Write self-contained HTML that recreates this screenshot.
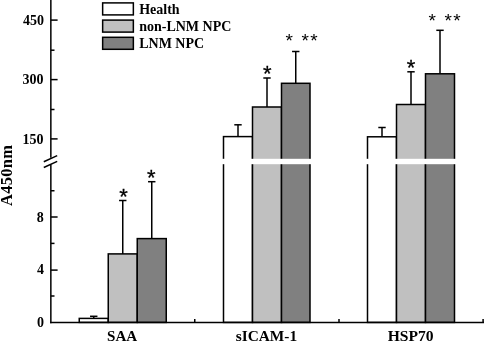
<!DOCTYPE html>
<html><head><meta charset="utf-8"><title>Chart</title>
<style>html,body{margin:0;padding:0;background:#fff}</style></head>
<body>
<svg width="484" height="341" viewBox="0 0 484 341" style="display:block">
<rect width="484" height="341" fill="#fff"/>
<g stroke="#000" stroke-width="1.5" fill="none" stroke-linecap="butt">
<line x1="93.75" y1="318.4" x2="93.75" y2="316.3"/>
<line x1="90.05" y1="316.3" x2="97.45" y2="316.3"/>
<rect x="79.25" y="318.4" width="29" height="4.00" fill="#ffffff"/>
<line x1="122.75" y1="253.9" x2="122.75" y2="200.5"/>
<line x1="119.05" y1="200.5" x2="126.45" y2="200.5"/>
<rect x="108.25" y="253.9" width="29" height="68.50" fill="#c0c0c0"/>
<line x1="151.75" y1="238.6" x2="151.75" y2="181.7"/>
<line x1="148.05" y1="181.7" x2="155.45" y2="181.7"/>
<rect x="137.25" y="238.6" width="29" height="83.80" fill="#808080"/>
<line x1="238.0" y1="136.6" x2="238.0" y2="124.8"/>
<line x1="234.3" y1="124.8" x2="241.7" y2="124.8"/>
<rect x="223.5" y="136.6" width="29" height="185.80" fill="#ffffff"/>
<line x1="267.0" y1="107" x2="267.0" y2="78"/>
<line x1="263.3" y1="78" x2="270.7" y2="78"/>
<rect x="252.5" y="107" width="29" height="215.40" fill="#c0c0c0"/>
<line x1="295.75" y1="83.3" x2="295.75" y2="51.5"/>
<line x1="292.05" y1="51.5" x2="299.45" y2="51.5"/>
<rect x="281.5" y="83.3" width="28.5" height="239.10" fill="#808080"/>
<line x1="382.0" y1="136.8" x2="382.0" y2="127.5"/>
<line x1="378.3" y1="127.5" x2="385.7" y2="127.5"/>
<rect x="367.5" y="136.8" width="29" height="185.60" fill="#ffffff"/>
<line x1="411.0" y1="104.5" x2="411.0" y2="71.8"/>
<line x1="407.3" y1="71.8" x2="414.7" y2="71.8"/>
<rect x="396.5" y="104.5" width="29" height="217.90" fill="#c0c0c0"/>
<line x1="440.0" y1="73.8" x2="440.0" y2="30.3"/>
<line x1="436.3" y1="30.3" x2="443.7" y2="30.3"/>
<rect x="425.5" y="73.8" width="29" height="248.60" fill="#808080"/>
</g>
<rect x="222.0" y="158.8" width="90" height="5.4" fill="#fff"/>
<rect x="366.0" y="158.8" width="90" height="5.4" fill="#fff"/>
<g stroke="#000" stroke-width="1.5" fill="none">
<line x1="50.85" y1="0" x2="50.85" y2="157.8"/>
<line x1="50.85" y1="164.5" x2="50.85" y2="323.15"/>
<line x1="50.1" y1="322.4" x2="484" y2="322.4"/>
<line x1="43.8" y1="161.7" x2="57.2" y2="155.6"/>
<line x1="43.8" y1="167.5" x2="57.2" y2="161.4"/>
<line x1="50.85" y1="20.1" x2="57.6" y2="20.1"/>
<line x1="50.85" y1="79.6" x2="57.6" y2="79.6"/>
<line x1="50.85" y1="138.9" x2="57.6" y2="138.9"/>
<line x1="50.85" y1="217" x2="57.6" y2="217"/>
<line x1="50.85" y1="270.1" x2="57.6" y2="270.1"/>
<line x1="50.85" y1="50.2" x2="54.5" y2="50.2"/>
<line x1="50.85" y1="109.5" x2="54.5" y2="109.5"/>
<line x1="50.85" y1="190.75" x2="54.5" y2="190.75"/>
<line x1="50.85" y1="243.4" x2="54.5" y2="243.4"/>
<line x1="50.85" y1="296" x2="54.5" y2="296"/>
<line x1="194.75" y1="322.4" x2="194.75" y2="319.1"/>
<line x1="339" y1="322.4" x2="339" y2="319.1"/>
<line x1="483.1" y1="322.4" x2="483.1" y2="319.1"/>
</g>
<rect x="102.65" y="2.9" width="30.7" height="12" fill="#ffffff" stroke="#000" stroke-width="1.5"/>
<rect x="102.65" y="20.1" width="30.7" height="12" fill="#c0c0c0" stroke="#000" stroke-width="1.5"/>
<rect x="102.65" y="37.3" width="30.7" height="12" fill="#808080" stroke="#000" stroke-width="1.5"/>
<g font-family="'Liberation Serif','Times New Roman',serif" font-weight="bold" fill="#000">
<text x="139.2" y="13.5" font-size="14">Health</text>
<text x="139.2" y="31.3" font-size="14">non-LNM NPC</text>
<text x="139.2" y="48.3" font-size="14">LNM NPC</text>
<text x="44" y="24.8" font-size="14" text-anchor="end">450</text>
<text x="43.6" y="84.3" font-size="14" text-anchor="end">300</text>
<text x="43.4" y="143.5" font-size="14" text-anchor="end">150</text>
<text x="43.8" y="221.6" font-size="14" text-anchor="end">8</text>
<text x="44" y="274.1" font-size="14" text-anchor="end">4</text>
<text x="44" y="326.6" font-size="14" text-anchor="end">0</text>
<text x="122.1" y="340.9" font-size="15.1" text-anchor="middle">SAA</text>
<text x="266.4" y="340.9" font-size="15.35" text-anchor="middle">sICAM-1</text>
<text x="410.7" y="340.9" font-size="15.6" text-anchor="middle">HSP70</text>
<text transform="translate(12,205.9) rotate(-90)" font-size="16.5" letter-spacing="0.24">A450nm</text>
</g>
<g font-family="'Liberation Sans',Arial,sans-serif" fill="#000" text-anchor="middle">
<text x="123.6" y="204.27" font-size="22" stroke="#000" stroke-width="0.3">*</text>
<text x="151.3" y="184.87" font-size="22" stroke="#000" stroke-width="0.3">*</text>
<text x="267.3" y="81.07" font-size="22" stroke="#000" stroke-width="0.3">*</text>
<text x="289.25" y="47.32" font-size="19">*</text>
<text x="305.1" y="47.32" font-size="19">*</text>
<text x="313.9" y="47.32" font-size="19">*</text>
<text x="411" y="74.77" font-size="22" stroke="#000" stroke-width="0.3">*</text>
<text x="432.3" y="27.32" font-size="19">*</text>
<text x="448.3" y="27.32" font-size="19">*</text>
<text x="456.9" y="27.32" font-size="19">*</text>
</g>
</svg>
</body></html>
